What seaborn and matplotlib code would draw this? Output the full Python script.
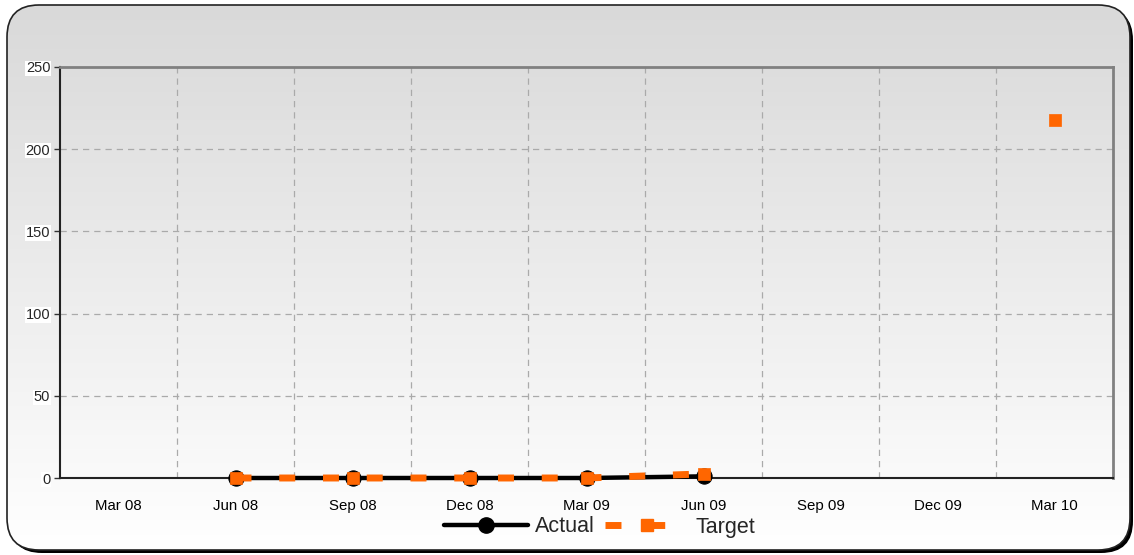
import numpy as np
import pandas as pd
import matplotlib
matplotlib.use('Agg')
import matplotlib.pyplot as plt
import seaborn as sns
from matplotlib.patches import FancyBboxPatch
from matplotlib.lines import Line2D

# data
categories = ['Mar 08', 'Jun 08', 'Sep 08', 'Dec 08', 'Mar 09',
              'Jun 09', 'Sep 09', 'Dec 09', 'Mar 10']
actual = [np.nan, 0, 0, 0, 0, 1, np.nan, np.nan, np.nan]
target = [np.nan, 0, 0, 0, 0, 2.5, np.nan, np.nan, 218]
y_ticks = [0, 50, 100, 150, 200, 250]

df = pd.DataFrame({'pos': range(len(categories)), 'cat': categories,
                   'Actual': actual, 'Target': target})

sns.set_theme(style='white')
plt.rcParams['font.family'] = ['Arial', 'Liberation Sans', 'DejaVu Sans']

fig = plt.figure(figsize=(11.34, 5.55), dpi=100)
fig.patch.set_facecolor('white')

# rounded background panel with gradient and shadow
bg = fig.add_axes([0, 0, 1, 1], zorder=-5)
bg.set_xlim(0, 1134)
bg.set_ylim(555, 0)
bg.axis('off')
shadow = FancyBboxPatch((10, 8), 1123, 545, boxstyle='round,pad=0,rounding_size=32',
                        facecolor='black', edgecolor='none')
bg.add_patch(shadow)
panel = FancyBboxPatch((7, 5), 1123, 545, boxstyle='round,pad=0,rounding_size=32',
                       facecolor='none', edgecolor='#222222', linewidth=1.2, zorder=3)
bg.add_patch(panel)
grad = np.linspace(0, 1, 256).reshape(-1, 1)
im = bg.imshow(grad, extent=(7, 1130, 550, 5), cmap=matplotlib.colors.LinearSegmentedColormap.from_list(
    'g', ['#ffffff', '#d9d9d9']), origin='lower', aspect='auto', zorder=2)
im.set_clip_path(panel)

ax = fig.add_axes([60 / 1134, 1 - 478 / 555, (1113 - 60) / 1134, (478 - 67) / 555])
ax.set_facecolor('none')

# Actual line
sns.lineplot(data=df.dropna(subset=['Actual']), x='pos', y='Actual', ax=ax,
             color='black', linewidth=3.2, marker='o', markersize=11,
             markeredgecolor='black', markerfacecolor='black', zorder=4, legend=False)

# Target: contiguous runs only, gaps stay open
seg = df['Target'].isna().cumsum()
for _, part in df[df['Target'].notna()].groupby(seg[df['Target'].notna()]):
    if len(part) > 1:
        sns.lineplot(data=part, x='pos', y='Target', ax=ax, color='#ff6600',
                     linewidth=5, dashes=False, zorder=5, legend=False,
                     linestyle=(0, (2.3, 4.0)))
sns.scatterplot(data=df.dropna(subset=['Target']), x='pos', y='Target', ax=ax,
                color='#ff6600', marker='s', s=65, edgecolor='#ff6600', linewidth=0.5,
                zorder=6, legend=False)

for art in ax.lines + ax.collections:
    art.set_clip_on(False)

ax.set_xlim(-0.5, len(categories) - 0.5)
ax.set_ylim(0, 250)
ax.set_yticks(y_ticks)
ax.set_xticks(range(len(categories)))
ax.set_xticklabels(categories)
ax.set_xticks(np.arange(0.5, len(categories) - 0.5, 1), minor=True)
ax.tick_params(axis='x', which='major', length=0, labelsize=10.8, pad=15, colors='black')
ax.tick_params(axis='x', which='minor', length=4, width=1, color='#333333', direction='out')
ax.tick_params(axis='y', length=4, width=1, color='#333333', labelsize=10.5, pad=3,
               direction='out', left=True)
for t in ax.get_yticklabels():
    t.set_bbox(dict(facecolor='white', edgecolor='none', pad=0.5))
ax.set_xlabel('')
ax.set_ylabel('')

ax.grid(False)
for yv in y_ticks[1:-1]:
    ax.axhline(yv, color='#aaaaaa', linestyle=(0, (5, 4)), linewidth=0.9, zorder=1)
for xv in np.arange(0.5, len(categories) - 0.5, 1):
    ax.axvline(xv, color='#aaaaaa', linestyle=(0, (5, 4)), linewidth=0.9, zorder=1)

for s in ['left', 'bottom']:
    ax.spines[s].set_color('#222222')
    ax.spines[s].set_linewidth(1.5)
for s in ['top', 'right']:
    ax.spines[s].set_color('#808080')
    ax.spines[s].set_linewidth(2)

handles = [Line2D([], [], color='black', linewidth=3.2, marker='o', markersize=11),
           Line2D([], [], color='#ff6600', linewidth=5, linestyle=(0, (2.3, 4.0)),
                  marker='s', markersize=9)]
leg = fig.legend(handles, ['Actual', 'Target'], loc='center', bbox_to_anchor=(600 / 1134, 1 - 527 / 555),
                 ncol=2, frameon=False, fontsize=15.5, handlelength=3.9, columnspacing=0.5,
                 handletextpad=0.3, numpoints=1)

plt.savefig('out.png', dpi=100, facecolor='white')
plt.close()
